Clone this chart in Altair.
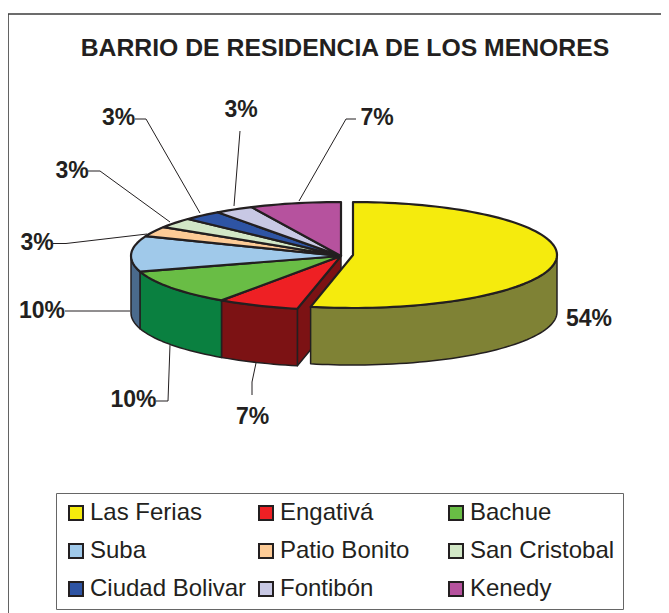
import math
import altair as alt

FONT = "Liberation Sans"
INK = "#231f20"

# Values
barrios = ["Las Ferias", "Engativá", "Bachue", "Suba", "Patio Bonito",
           "San Cristobal", "Ciudad Bolivar", "Fontibón", "Kenedy"]
shares = [54, 7, 10, 10, 3, 3, 3, 3, 7]
top_colors = ["#f5eb0d", "#ee2024", "#69bd45", "#a0c9ea", "#fdcb96",
              "#d2e7c6", "#2e54a4", "#c8c8e4", "#b6529e"]
side_colors = ["#7f8235", "#7c1214", "#0a8040", "#4a6a8c", "#c9a070",
               "#a0b59a", "#1f3a75", "#9a9ab5", "#853a73"]

# Percentage labels: text, x, y (chart units = px from the chart's corner)
label_text = ["54%", "7%", "10%", "10%", "3%", "3%", "3%", "3%", "7%"]
label_x = [581, 244.5, 125.5, 34, 29, 64, 110.5, 233, 369]
label_y = [311, 408.5, 392, 303, 235, 163, 110, 102, 110]

# Leader lines, one list of (x, y) stops per label
leaders = [
    [(244, 387), (244, 374), (248, 355)],
    [(148, 393), (160, 393), (162, 337)],
    [(57, 303), (122, 303)],
    [(45, 235.5), (58, 235.5), (139, 226)],
    [(80, 163), (92, 163), (162, 214)],
    [(127, 111), (138, 111), (192, 205)],
    [(232, 123), (226, 198)],
    [(348, 111), (338, 111), (291, 193)],
]
W, H = 653, 605
frame = [(W, 6), (0, 6), (0, H)]

# Pie geometry
REST = dict(cx=333, cy=248, rx=210, ry=54)
FERIAS = dict(cx=345, cy=247, rx=204, ry=53)
DEPTH = 57


def rim_point(p, deg, drop=0):
    # The source's 3-D view compresses the front-left quadrant slightly
    warped = deg - 5 * math.sin(math.radians(2 * deg)) if 180 <= deg <= 270 else deg
    t = math.radians(warped)
    return [p["cx"] + p["rx"] * math.sin(t), p["cy"] - p["ry"] * math.cos(t) + drop]


def arc(p, a, b, drop=0):
    n = max(2, int(abs(b - a) / 2) + 1)
    return [rim_point(p, a + (b - a) * i / n, drop) for i in range(n + 1)]


def feature(coords, **props):
    ring = coords + [coords[0]]
    return {"type": "Feature", "properties": props,
            "geometry": {"type": "Polygon", "coordinates": [ring]}}


tops, sides = [], []
start = 0.0
for i, (name, share) in enumerate(zip(barrios, shares)):
    end = start + share * 3.6
    p = FERIAS if i == 0 else REST
    apex = [p["cx"], p["cy"]]
    tops.append(feature([apex] + arc(p, start, end), name=name))
    a, b = max(start, 90), min(end, 270)
    if a < b:
        upper = arc(p, a, b)
        lower = arc(p, a, b, DEPTH)
        sides.append(feature(upper + lower[::-1], name=name, fill=side_colors[i]))
    start = end

# Cut face of the Engativá slice, visible beside the pulled-out wedge
edge = rim_point(REST, shares[0] * 3.6)
face = feature([[REST["cx"], REST["cy"]], edge, [edge[0], edge[1] + DEPTH],
                [REST["cx"], REST["cy"] + DEPTH]], name="face", fill=side_colors[1])
# painted back to front: the cut face, then the rest of the rim, Las Ferias last
side_feats = [face] + sides[1:] + sides[:1]


def geo(feats):
    return alt.Data(values={"type": "FeatureCollection", "features": feats},
                    format=alt.DataFormat(type="json", property="features"))


side_layer = alt.Chart(geo(side_feats)).mark_geoshape(
    stroke=INK, strokeWidth=1.5, strokeJoin="round"
).encode(fill=alt.Fill("properties.fill:N", scale=None)).project(
    type="identity", scale=1, translate=[0, 0])

top_layer = alt.Chart(geo(tops)).mark_geoshape(
    stroke=INK, strokeWidth=2.2, strokeJoin="round"
).encode(
    fill=alt.Fill(
        "properties.name:N",
        scale=alt.Scale(domain=barrios, range=top_colors),
        legend=alt.Legend(
            title=None, orient="none", legendX=48, legendY=485, columns=3,
            direction="horizontal",
            gridAlign="all", symbolType="square", symbolSize=196,
            symbolStrokeColor=INK, symbolStrokeWidth=2, symbolOpacity=1,
            labelFont=FONT, labelFontSize=24, labelColor=INK, labelLimit=300,
            labelOffset=2, rowPadding=14, columnPadding=7, padding=8,
            strokeColor="#666666", fillColor="white", values=barrios,
        ),
    )
).project(type="identity", scale=1, translate=[0, 0])

X = alt.X("x:Q", axis=None, scale=alt.Scale(domain=[0, W]))
Y = alt.Y("y:Q", axis=None, scale=alt.Scale(domain=[H, 0]))

leader_rows = [
    {"id": i, "seq": j, "x": x, "y": y}
    for i, stops in enumerate(leaders) for j, (x, y) in enumerate(stops)
]
leader_layer = alt.Chart(alt.Data(values=leader_rows)).mark_line(
    color=INK, strokeWidth=1
).encode(x=X, y=Y, detail="id:N", order="seq:Q")

frame_rows = [{"seq": j, "x": x, "y": y} for j, (x, y) in enumerate(frame)]
frame_layer = alt.Chart(alt.Data(values=frame_rows)).mark_line(
    color="#3c3c3c", strokeWidth=1.6
).encode(x=X, y=Y, order="seq:Q")

label_rows = [{"t": t, "x": x, "y": y} for t, x, y in zip(label_text, label_x, label_y)]
label_layer = alt.Chart(alt.Data(values=label_rows)).mark_text(
    font=FONT, fontSize=23, fontWeight="bold", color=INK, align="center", baseline="middle"
).encode(x=X, y=Y, text="t:N")

chart = alt.layer(
    frame_layer, side_layer, top_layer, leader_layer, label_layer
).resolve_scale(fill="independent").properties(
    width=W, height=H, padding=0,
    autosize=alt.AutoSizeParams(type="none"),
    title=alt.TitleParams(
        "BARRIO DE RESIDENCIA DE LOS MENORES", font=FONT, fontSize=24.75,
        fontWeight="bold", color=INK, anchor="middle", dx=10.5, dy=53, offset=0,
    ),
).configure_view(stroke=None)

chart.save("out.html", embed_options={"renderer": "svg", "actions": False})
